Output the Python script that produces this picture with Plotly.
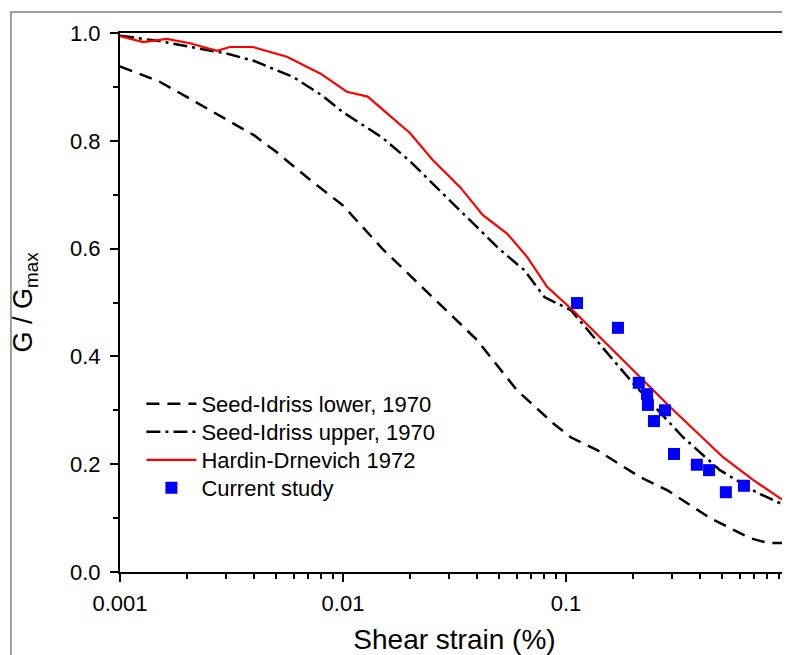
import plotly.graph_objects as go

# Seed-Idriss lower bound, 1970
lower_x = [0.001, 0.0015, 0.002, 0.003, 0.004, 0.005, 0.007, 0.01, 0.015, 0.02, 0.03, 0.04, 0.06, 0.0875, 0.105, 0.138, 0.215, 0.284, 0.443, 0.561, 0.668, 0.80, 1.0]
lower_y = [0.938, 0.910, 0.881, 0.840, 0.810, 0.780, 0.730, 0.680, 0.600, 0.550, 0.480, 0.430, 0.338, 0.276, 0.250, 0.226, 0.176, 0.152, 0.100, 0.078, 0.063, 0.054, 0.054]

# Seed-Idriss upper bound, 1970
upper_x = [0.001, 0.0015, 0.0022, 0.003, 0.004, 0.006, 0.008, 0.01, 0.015, 0.02, 0.03, 0.05, 0.065, 0.08, 0.105, 0.2, 0.335, 0.49, 0.72, 1.0]
upper_y = [0.995, 0.985, 0.972, 0.962, 0.948, 0.918, 0.885, 0.853, 0.806, 0.762, 0.690, 0.600, 0.560, 0.510, 0.486, 0.350, 0.250, 0.189, 0.147, 0.120]

# Hardin-Drnevich 1972
hd_x = [0.001, 0.00127, 0.00162, 0.00206, 0.00272, 0.00311, 0.00395, 0.0056, 0.0079, 0.0104, 0.0129, 0.0157, 0.020, 0.0253, 0.0335, 0.0424, 0.0544, 0.0668, 0.0822, 0.107, 0.238, 0.293, 0.506, 0.69, 0.91, 1.0]
hd_y = [0.994, 0.983, 0.989, 0.981, 0.967, 0.974, 0.974, 0.956, 0.925, 0.891, 0.882, 0.851, 0.814, 0.764, 0.714, 0.662, 0.628, 0.585, 0.529, 0.486, 0.344, 0.306, 0.213, 0.171, 0.137, 0.128]

# Current study
cs_x = [0.112, 0.171, 0.212, 0.231, 0.233, 0.248, 0.278, 0.305, 0.386, 0.438, 0.521, 0.628]
cs_y = [0.499, 0.453, 0.351, 0.330, 0.310, 0.280, 0.300, 0.219, 0.199, 0.189, 0.148, 0.160]

x_tickvals = [0.001, 0.01, 0.1, 1]
x_ticktext = ["0.001", "0.01", "0.1", "1"]

FONT = "Liberation Sans, Arial, sans-serif"

fig = go.Figure()
fig.add_trace(go.Scatter(x=lower_x, y=lower_y, mode="lines", name="Seed-Idriss lower, 1970",
                         line=dict(color="black", width=2.5, dash="13px,8px"), legend="legend"))
fig.add_trace(go.Scatter(x=upper_x, y=upper_y, mode="lines", name="Seed-Idriss upper, 1970",
                         line=dict(color="black", width=2.5, dash="14px,5px,3px,5px"), legend="legend2"))
fig.add_trace(go.Scatter(x=hd_x, y=hd_y, mode="lines", name="Hardin-Drnevich 1972",
                         line=dict(color="#ff0000", width=2.2), legend="legend3"))
fig.add_trace(go.Scatter(x=cs_x, y=cs_y, mode="markers", name="Current study",
                         marker=dict(symbol="square", size=12, color="#0000ff"), legend="legend4"))

# outer grey frame
fig.add_shape(type="rect", xref="paper", yref="paper", x0=-0.163, x1=1.0, y0=-0.2, y1=1.039,
              line=dict(color="#7f7f7f", width=1.5), layer="below")

def leg(ypos):
    return dict(x=0.032, y=ypos, xanchor="left", yanchor="middle", bgcolor="rgba(0,0,0,0)",
                font=dict(size=22), itemwidth=50)

fig.update_layout(
    width=782, height=647,
    margin=dict(l=112, r=1, t=25, b=83, autoexpand=False),
    paper_bgcolor="white", plot_bgcolor="white",
    font=dict(family=FONT, size=22, color="black"),
    showlegend=True,
    legend=leg(0.3117), legend2=leg(0.2597), legend3=leg(0.2078), legend4=leg(0.1558),
    xaxis=dict(type="log", range=[-3, 0], showline=True, linecolor="black", linewidth=2,
               mirror=True, ticks="outside", ticklen=8, tickwidth=2, tickcolor="black",
               tickvals=x_tickvals, ticktext=x_ticktext, showgrid=False, zeroline=False,
               automargin=False, ticklabelstandoff=3,
               minor=dict(ticks="outside", ticklen=5, tickwidth=1.5, tickcolor="black", dtick="D1", showgrid=False),
               title=dict(text="Shear strain (%)", font=dict(size=28), standoff=19),
               tickfont=dict(size=22)),
    yaxis=dict(range=[0, 1], showline=True, linecolor="black", linewidth=2,
               ticks="outside", ticklen=8, tickwidth=2, tickcolor="black",
               dtick=0.2, tickformat=".1f", showgrid=False, zeroline=False,
               automargin=False, ticklabelstandoff=5,
               minor=dict(ticks="outside", ticklen=5, tickwidth=1.5, tickcolor="black", dtick=0.1, showgrid=False),
               title=dict(text="G / G<sub>max</sub>", font=dict(size=27), standoff=40),
               tickfont=dict(size=22)),
)

fig.write_html("out.html")
